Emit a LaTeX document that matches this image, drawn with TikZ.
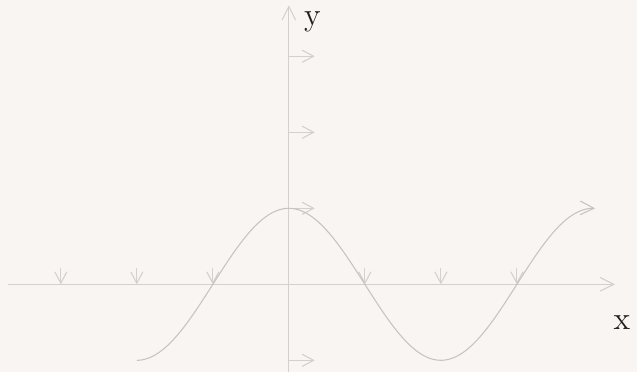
\documentclass[tikz,border=0pt]{standalone}
\usepackage{tikz}
\usepackage{xcolor}
\usetikzlibrary{arrows.meta}
\definecolor{PaperWhite}{HTML}{F8F5F2}
\definecolor{AxisGray}{HTML}{D3D1CF}
\definecolor{CurveGray}{HTML}{C6C4C2}
\definecolor{LabelDark}{HTML}{221E1A}

\begin{document}
\begin{tikzpicture}[x=1cm, y=1cm, line width=0.4pt,
        axisline/.style={AxisGray, -{Straight Barb[length=1.8mm, width=1.8mm]}},
        field/.style={AxisGray, -{Straight Barb[length=1.5mm, width=1.6mm]}},
        axislabel/.style={text=LabelDark, font=\large, inner sep=1pt}]
        % Paper
        \fill[PaperWhite] (-3.80,-1.16) rectangle (4.58,3.74);
        \useasboundingbox (-3.80,-1.16) rectangle (4.58,3.74);

        % Axes
        \coordinate (xstart) at (-3.69,0);
        \coordinate (xend) at (4.29,0);
        \coordinate (ystart) at (0,-1.16);
        \coordinate (yend) at (0,3.67);
        \draw[axisline] (xstart) -- (xend);
        \draw[axisline] (ystart) -- (yend);
        \node[axislabel] (xlabel) at (4.38,-0.50) {x};
        \node[axislabel] (ylabel) at (0.31,3.45) {y};

        % Arrows on the x axis
        \foreach \x in {-3,-2,-1,1,2,3} {
            \coordinate (xtop\x) at (\x,0.21);
            \coordinate (xfoot\x) at (\x,0);
            \draw[field] (xtop\x) -- (xfoot\x);
        }

        % Arrows on the y axis
        \foreach \y in {-1,1,2,3} {
            \coordinate (ybase\y) at (0,\y);
            \coordinate (ytip\y) at (0.34,\y);
            \draw[field] (ybase\y) -- (ytip\y);
        }

        % Curve
        \draw[CurveGray, -{Straight Barb[length=1.8mm, width=1.8mm]}]
            plot[domain=-2:4.03, samples=120, smooth] (\x,{cos(90*\x)});

    \end{tikzpicture}
\end{document}
